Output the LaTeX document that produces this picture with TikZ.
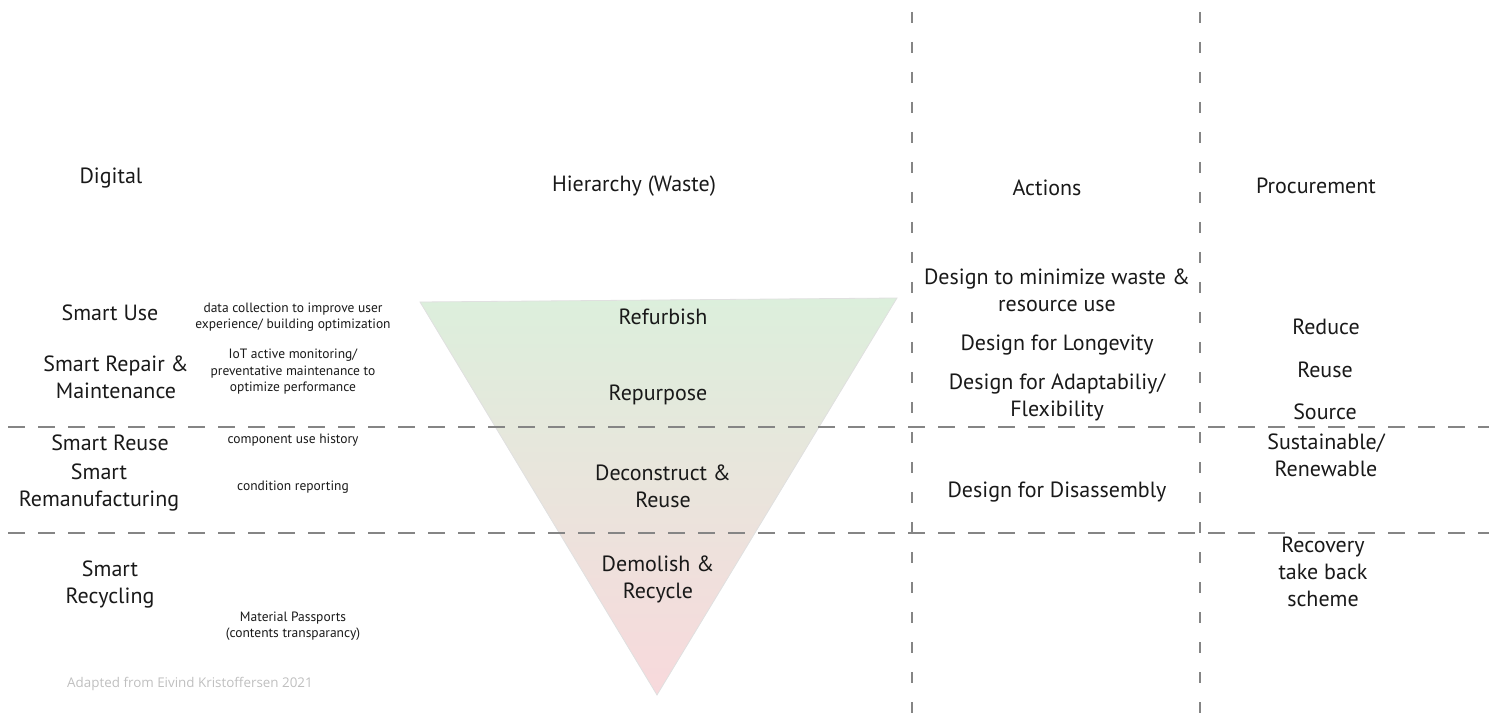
\documentclass[tikz,border=0pt]{standalone}
\usepackage{fontspec}
\setmainfont{PT Sans}
\newfontfamily\notefont{Open Sans}
\definecolor{gtop}{RGB}{220,239,220}
\definecolor{gmid}{RGB}{238,234,216}
\definecolor{gbot}{RGB}{248,217,220}
\begin{document}
\begin{tikzpicture}[x=1pt,y=-1pt,
  lbl/.style={font=\fontsize{22}{27}\selectfont, align=center, text=black!90, inner sep=0pt},
  sml/.style={font=\fontsize{13.5}{16.5}\selectfont, align=center, text=black!90, inner sep=0pt},
  divh/.style={draw=black!48, line width=1.5pt, dash pattern=on 17pt off 13pt},
  divv/.style={draw=black!48, line width=1.2pt, dash pattern=on 11pt off 19pt}]
\useasboundingbox (0,0) rectangle (1489,719);
% triangle
\coordinate (tl) at (420,302);
\coordinate (tr) at (897,298);
\coordinate (ap) at (657,695);
\shade[top color=gtop, middle color=gmid, bottom color=gbot]
  (tl) -- (tr) -- (ap) -- cycle;
\draw[black!12, line width=0.8pt] (tl) -- (tr) -- (ap) -- cycle;
% dividers
\coordinate (h1a) at (8,427); \coordinate (h1b) at (1489,427);
\coordinate (h2a) at (8,533); \coordinate (h2b) at (1489,533);
\coordinate (v1a) at (912,12); \coordinate (v1b) at (912,719);
\coordinate (v2a) at (1200,12); \coordinate (v2b) at (1200,719);
\draw[divh] (h1a) -- (h1b);
\draw[divh] (h2a) -- (h2b);
\draw[divv] (v1a) -- (v1b);
\draw[divv] (v2a) -- (v2b);
% headers
\node[lbl] (dig) at (111,178) {Digital};
\node[lbl] (hier) at (634,186) {Hierarchy (Waste)};
\node[lbl] (act) at (1047,188) {Actions};
\node[lbl] (proc) at (1316,186) {Procurement};
% digital column
\node[lbl] (su) at (110,313) {Smart Use};
\node[lbl] (srm) at (116,377) {Smart Repair \&\\Maintenance};
\node[lbl] (sre) at (110,443) {Smart Reuse};
\node[lbl] (srem) at (99,487) {Smart\\Remanufacturing};
\node[lbl] (srec) at (110,584) {Smart\\Recycling};
% small notes
\node[sml] (n1) at (293,317) {data collection to improve user\\experience/ building optimization};
\node[sml] (n2) at (293,372) {IoT active monitoring/\\preventative maintenance to\\optimize performance};
\node[sml] (n3) at (293,440) {component use history};
\node[sml] (n4) at (293,487) {condition reporting};
\node[sml] (n5) at (293,626) {Material Passports\\(contents transparancy)};
\node[font=\notefont\fontsize{13.4}{15}\selectfont, text=black!25, inner sep=0pt] (src) at (190,684) {Adapted from Eivind Kristoffersen 2021};
% hierarchy
\node[lbl] (t1) at (663,317) {Refurbish};
\node[lbl] (t2) at (658,395) {Repurpose};
\node[lbl] (t3) at (663,486) {Deconstruct \&\\Reuse};
\node[lbl] (t4) at (658,579) {Demolish \&\\Recycle};
% actions
\node[lbl] (a1) at (1057,290) {Design to minimize waste \&\\resource use};
\node[lbl] (a2) at (1057,345) {Design for Longevity};
\node[lbl] (a3) at (1057,397) {Design for Adaptabiliy/\\Flexibility};
\node[lbl] (a4) at (1057,492) {Design for Disassembly};
% procurement
\node[lbl] (p1) at (1326,327) {Reduce};
\node[lbl] (p2) at (1325,370) {Reuse};
\node[lbl] (p3) at (1325,412) {Source};
\node[lbl] (p4) at (1326,455) {Sustainable/\\Renewable};
\node[lbl] (p5) at (1323,572) {Recovery\\take back\\scheme};
\end{tikzpicture}
\end{document}
